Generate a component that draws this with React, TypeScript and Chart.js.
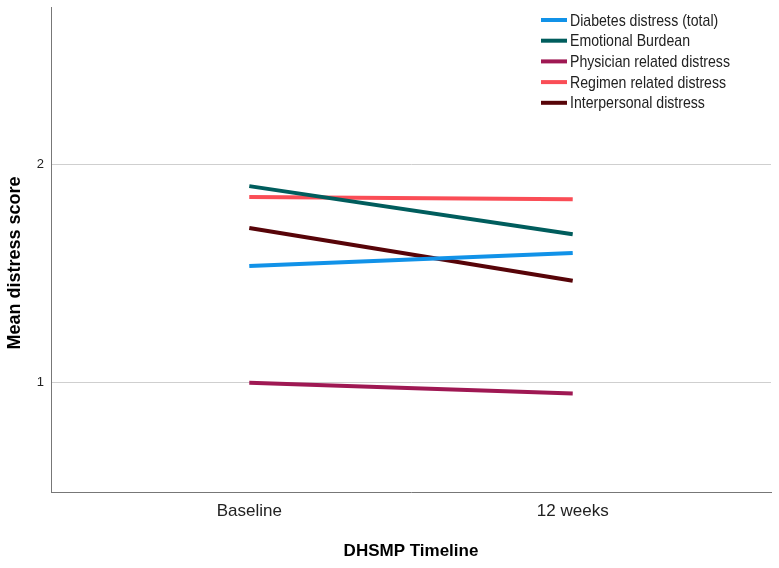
import React, { useEffect, useRef } from "react";
import { Chart, registerables } from "chart.js";

Chart.register(...registerables);

const timepoints = ["Baseline", "12 weeks"];
const seriesNames = [
  "Diabetes distress (total)",
  "Emotional Burdean",
  "Physician related distress",
  "Regimen related distress",
  "Interpersonal distress",
];
const diabetesTotal = [1.535, 1.594];
const emotionalBurden = [1.9, 1.68];
const physicianDistress = [1.0, 0.951];
const regimenDistress = [1.85, 1.84];
const interpersonalDistress = [1.708, 1.467];
const seriesColors = ["#1192e8", "#005d5d", "#9f1853", "#fa4d56", "#570408"];
const yTicks = [1, 2];

const SANS = "'Liberation Sans', Arial, sans-serif";

export default function App() {
  const ref = useRef<HTMLCanvasElement | null>(null);

  useEffect(() => {
    if (!ref.current) return;
    const values = [diabetesTotal, emotionalBurden, physicianDistress, regimenDistress, interpersonalDistress];
    const datasets = seriesNames.map((name, i) => ({
      label: name,
      data: values[i].map((v, j) => ({ x: j, y: v })),
      borderColor: seriesColors[i],
      backgroundColor: seriesColors[i],
      borderWidth: 4,
      pointRadius: 0,
      fill: false,
    }));

    const overlay = {
      id: "overlay",
      afterDraw(chart: any) {
        const ctx = chart.ctx;
        const area = chart.chartArea;
        ctx.save();
        // legend
        const x0 = area.right - 230;
        chart.data.datasets.forEach((ds: any, i: number) => {
          const y = 20 + i * 20.7;
          ctx.strokeStyle = ds.borderColor;
          ctx.lineWidth = 4;
          ctx.beginPath();
          ctx.moveTo(x0, y);
          ctx.lineTo(x0 + 26, y);
          ctx.stroke();
          ctx.save();
          ctx.translate(x0 + 29, y + 1);
          ctx.scale(0.83, 1);
          ctx.fillStyle = "#222";
          ctx.font = `17px ${SANS}`;
          ctx.textAlign = "left";
          ctx.textBaseline = "middle";
          ctx.fillText(ds.label, 0, 0);
          ctx.restore();
        });
        // y title
        ctx.translate(15, 263);
        ctx.rotate(-Math.PI / 2);
        ctx.fillStyle = "#000";
        ctx.font = `bold 18px ${SANS}`;
        ctx.textAlign = "center";
        ctx.textBaseline = "middle";
        ctx.fillText("Mean distress score", 0, 0);
        ctx.restore();
      },
    };

    const chart = new Chart(ref.current, {
      type: "line",
      data: { datasets },
      options: {
        animation: false,
        responsive: false,
        layout: { padding: { left: 0, right: 8, top: 0, bottom: 0 } },
        plugins: { legend: { display: false }, tooltip: { enabled: false } },
        scales: {
          x: {
            type: "linear",
            min: -0.613,
            max: 1.613,
            afterBuildTicks: (s: any) => {
              s.ticks = timepoints.map((_, i) => ({ value: i }));
            },
            afterFit: (s: any) => {
              s.height = 76;
            },
            ticks: {
              callback: (v: any) => timepoints[v as number] ?? "",
              font: { family: SANS, size: 17 },
              color: "#222",
              padding: 9,
              maxRotation: 0,
            },
            grid: { display: false, drawTicks: false },
            border: { display: true, color: "#777", width: 1 },
            title: {
              display: true,
              text: "DHSMP Timeline",
              font: { family: SANS, size: 17, weight: "bold" },
              color: "#000",
              padding: { top: 0, bottom: 6 },
            },
          },
          y: {
            min: 0.5,
            max: 2.72,
            afterBuildTicks: (s: any) => {
              s.ticks = yTicks.map((v) => ({ value: v }));
            },
            afterFit: (s: any) => {
              s.width = 51;
              s.paddingTop = 7;
              s.paddingBottom = 0;
            },
            ticks: {
              font: { family: SANS, size: 13 },
              color: "#222",
              padding: 7,
            },
            grid: { color: "#cfcfcf", lineWidth: 1, drawTicks: false },
            border: { display: true, color: "#777", width: 1 },
          },
        },
      },
      plugins: [overlay],
    });
    return () => chart.destroy();
  }, []);

  return (
    <div style={{ position: "absolute", left: 0, top: 0, width: 779, height: 568, background: "#fff" }}>
      <canvas ref={ref} width={779} height={568} style={{ display: "block" }} />
    </div>
  );
}
